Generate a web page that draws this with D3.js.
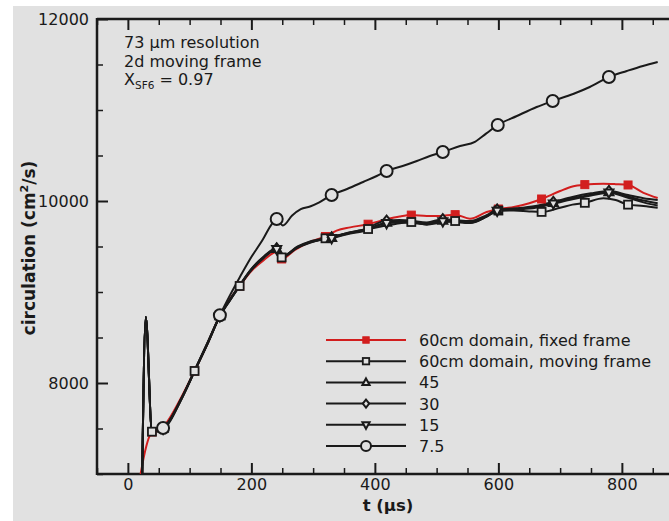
<!DOCTYPE html>
<html><head><meta charset="utf-8">
<script src="https://cdn.jsdelivr.net/npm/d3@7"></script>
<style>html,body{margin:0;padding:0;background:#fff;}svg{display:block;}</style>
</head><body>
<script>
// ---- data ----
const xTicks = [0, 200, 400, 600, 800];
const yTicks = [8000, 10000, 12000];
const xDomain = [-50, 880];
const yDomain = [7000, 12000];

const fixedFrame = [[9,6500],[39,7462],[57,7520],[87,7850],[108,8132],[130,8450],[149,8740],[165,8920],[181,9066],[200,9230],[220,9350],[241,9440],[249,9363],[270,9460],[295,9550],[320,9610],[338,9674],[360,9710],[389,9745],[419,9800],[440,9830],[459,9845],[484,9835],[505,9835],[530,9850],[554,9805],[581,9879],[600,9912],[625,9935],[650,9975],[670,10022],[700,10110],[720,10160],[740,10180],[770,10190],[790,10185],[810,10176],[835,10090],[858,10033]];
const fixedMarks = [39,108,181,249,320,389,459,530,600,670,740,810];

const movingFrame = [[23,6900],[29,8725],[39,7465],[57,7500],[87,7830],[108,8132],[130,8445],[149,8735],[165,8905],[181,9066],[200,9240],[220,9375],[241,9470],[249,9380],[270,9470],[295,9540],[320,9590],[345,9630],[368,9665],[389,9692],[410,9720],[435,9750],[459,9769],[484,9740],[505,9760],[530,9780],[554,9760],[581,9830],[600,9895],[625,9895],[650,9885],[670,9880],[700,9925],[720,9960],[740,9980],[770,10030],[790,10010],[810,9960],[835,9945],[858,9925]];
const movingMarks = [39,108,181,249,320,389,459,530,600,670,740,810];

const d45 = [[23,6900],[29,8725],[39,7470],[57,7500],[87,7830],[108,8130],[130,8450],[149,8736],[165,8910],[181,9070],[200,9250],[220,9385],[241,9475],[252,9396],[275,9495],[295,9549],[330,9595],[355,9640],[381,9675],[419,9765],[440,9775],[457,9770],[484,9750],[510,9785],[530,9775],[554,9765],[581,9835],[598,9900],[630,9915],[660,9935],[689,9980],[720,10030],[750,10070],[779,10100],[810,10050],[835,10005],[858,9975]];
const d30 = [[23,6900],[29,8725],[39,7470],[57,7505],[87,7835],[108,8135],[130,8455],[149,8740],[165,8915],[181,9075],[200,9255],[220,9390],[241,9480],[252,9400],[275,9500],[295,9555],[330,9600],[355,9650],[381,9685],[419,9785],[440,9790],[457,9785],[484,9765],[510,9800],[530,9790],[554,9780],[581,9845],[598,9905],[630,9920],[660,9945],[689,9990],[720,10045],[750,10085],[779,10110],[810,10065],[835,10030],[858,10010]];
const d15 = [[23,6900],[29,8725],[39,7470],[57,7495],[87,7825],[108,8128],[130,8445],[149,8732],[165,8905],[181,9065],[200,9245],[220,9380],[241,9470],[252,9392],[275,9490],[295,9545],[330,9590],[355,9635],[381,9668],[419,9755],[440,9765],[457,9762],[484,9745],[510,9775],[530,9768],[554,9758],[581,9828],[598,9890],[630,9905],[660,9925],[689,9970],[720,10020],[750,10060],[779,10090],[810,10035],[835,9985],[858,9950]];
const bundleMarks = [57,149,241,330,419,510,598,689,779];

const d75 = [[23,6900],[29,8725],[39,7470],[57,7505],[87,7835],[108,8140],[130,8460],[149,8745],[165,8960],[181,9160],[198,9363],[219,9582],[233,9747],[241,9802],[251,9730],[266,9840],[280,9910],[295,9940],[310,9985],[330,10066],[355,10132],[381,10209],[403,10275],[419,10330],[445,10385],[468,10440],[489,10495],[510,10538],[538,10604],[562,10650],[580,10740],[599,10835],[630,10934],[662,11033],[688,11099],[721,11176],[748,11253],[779,11363],[808,11429],[834,11484],[858,11527]];
const marks75 = [57,149,241,330,419,510,599,688,779];

const seriesNames = ["60cm domain, fixed frame","60cm domain, moving frame","45","30","15","7.5"];
const seriesData = [fixedFrame, movingFrame, d45, d30, d15, d75];
const seriesMarks = [fixedMarks, movingMarks, bundleMarks, bundleMarks, bundleMarks, marks75];
const seriesSymbols = ["squareFilled","square","triangle","diamond","triangleDown","circle"];
const seriesColors = ["#d21e1e","#1a1a1a","#1a1a1a","#1a1a1a","#1a1a1a","#1a1a1a"];

(function(){
// ---- layout ----
const W = 669, H = 521;
const BG = "#e1e1e1", INK = "#1a1a1a";
const pLeft = 97, pTop = 19, pBottom = 474;
const x = d3.scaleLinear().domain(xDomain).range([pLeft, pLeft + (xDomain[1]-xDomain[0])*0.6175]);
const y = d3.scaleLinear().domain(yDomain).range([pBottom, pTop]);
const pRight = x.range()[1];

const svg = d3.select("body").append("svg").attr("width", W).attr("height", H);
svg.append("rect").attr("width", W).attr("height", H).attr("fill", "#fff");
svg.append("rect").attr("x", 13).attr("y", 6).attr("width", W-13).attr("height", H-6).attr("fill", BG);

svg.append("defs").append("clipPath").attr("id","plotclip").append("rect")
  .attr("x", pLeft).attr("y", pTop).attr("width", pRight-pLeft).attr("height", pBottom-pTop);

// ---- axes ----
const font = "'DejaVu Sans', sans-serif";
function styleAxis(g){
  g.select(".domain").remove();
  g.selectAll(".tick line").attr("stroke", INK).attr("stroke-width", 2);
  g.selectAll(".tick text").attr("fill", INK).attr("font-family", font).attr("font-size", "16px");
}
const xMinor = d3.range(-50, 881, 50).filter(v => v % 200 !== 0);
const yMinor = d3.range(7000, 12001, 500).filter(v => v % 2000 !== 0);

svg.append("g").attr("transform", `translate(0,${pBottom})`)
  .call(d3.axisTop(x).tickValues(xTicks).tickSize(11).tickFormat(""))
  .call(styleAxis);
svg.append("g").attr("transform", `translate(0,${pBottom})`)
  .call(d3.axisTop(x).tickValues(xMinor).tickSize(6).tickFormat(""))
  .call(styleAxis).selectAll(".tick line").attr("stroke-width", 1.5);
svg.append("g").attr("transform", `translate(0,${pBottom})`)
  .call(d3.axisBottom(x).tickValues(xTicks).tickSize(0).tickPadding(5).tickFormat(d3.format("d")))
  .call(styleAxis);
svg.append("g").attr("transform", `translate(0,${pTop})`)
  .call(d3.axisBottom(x).tickValues(xTicks).tickSize(11).tickFormat(""))
  .call(styleAxis);
svg.append("g").attr("transform", `translate(0,${pTop})`)
  .call(d3.axisBottom(x).tickValues(xMinor).tickSize(6).tickFormat(""))
  .call(styleAxis).selectAll(".tick line").attr("stroke-width", 1.5);
svg.append("g").attr("transform", `translate(${pLeft},0)`)
  .call(d3.axisRight(y).tickValues(yTicks).tickSize(11).tickFormat(""))
  .call(styleAxis);
svg.append("g").attr("transform", `translate(${pLeft},0)`)
  .call(d3.axisRight(y).tickValues(yMinor).tickSize(6).tickFormat(""))
  .call(styleAxis).selectAll(".tick line").attr("stroke-width", 1.5);
svg.append("g").attr("transform", `translate(${pLeft},0)`)
  .call(d3.axisLeft(y).tickValues(yTicks).tickSize(0).tickPadding(8).tickFormat(d3.format("d")))
  .call(styleAxis);

svg.append("line").attr("x1", pLeft).attr("x2", pRight).attr("y1", pBottom).attr("y2", pBottom).attr("stroke", INK).attr("stroke-width", 2.5);
svg.append("line").attr("x1", pLeft).attr("x2", pRight).attr("y1", pTop).attr("y2", pTop).attr("stroke", INK).attr("stroke-width", 2.5);
svg.append("line").attr("x1", pLeft).attr("x2", pLeft).attr("y1", pTop-1).attr("y2", pBottom+1).attr("stroke", INK).attr("stroke-width", 2.5);

// ---- symbols ----
function drawSymbol(g, type, cx, cy, color, s){
  if (type === "squareFilled") {
    g.append("rect").attr("x", cx-s*0.8).attr("y", cy-s*0.8).attr("width", s*1.6).attr("height", s*1.6)
      .attr("fill", color).attr("stroke", color).attr("stroke-width", 1);
  } else if (type === "square") {
    g.append("rect").attr("x", cx-s*0.8).attr("y", cy-s*0.8).attr("width", s*1.6).attr("height", s*1.6)
      .attr("fill", BG).attr("stroke", color).attr("stroke-width", 1.8);
  } else if (type === "circle") {
    g.append("circle").attr("cx", cx).attr("cy", cy).attr("r", s).attr("fill", BG).attr("stroke", color).attr("stroke-width", 2);
  } else {
    let pts;
    if (type === "triangle") pts = [[0,-s],[s*0.9,s*0.65],[-s*0.9,s*0.65]];
    else if (type === "triangleDown") pts = [[0,s],[s*0.9,-s*0.65],[-s*0.9,-s*0.65]];
    else pts = [[0,-s],[s*0.8,0],[0,s],[-s*0.8,0]];
    g.append("polygon").attr("points", pts.map(p => [cx+p[0], cy+p[1]].join(",")).join(" "))
      .attr("fill", BG).attr("stroke", color).attr("stroke-width", 2);
  }
}

// ---- series ----
const plot = svg.append("g").attr("clip-path", "url(#plotclip)");
const line = d3.line().x(d => x(d[0])).y(d => y(d[1])).curve(d3.curveMonotoneX);
const order = [0, 1, 2, 3, 4, 5];
order.forEach(i => {
  plot.append("path").datum(seriesData[i]).attr("d", line)
    .attr("fill", "none").attr("stroke", seriesColors[i]).attr("stroke-width", 2)
    .attr("stroke-linejoin", "round");
});
order.forEach(i => {
  const g = plot.append("g");
  seriesData[i].filter(d => seriesMarks[i].includes(d[0])).forEach(d => {
    drawSymbol(g, seriesSymbols[i], x(d[0]), y(d[1]), seriesColors[i], i === 5 ? 6 : 5);
  });
});

// ---- legend ----
const legY0 = 340, legDy = 21.2;
seriesNames.forEach((name, i) => {
  const ly = legY0 + i*legDy;
  const g = svg.append("g");
  g.append("line").attr("x1", 326).attr("x2", 406).attr("y1", ly).attr("y2", ly)
    .attr("stroke", seriesColors[i]).attr("stroke-width", 2);
  drawSymbol(g, seriesSymbols[i], 366, ly, seriesColors[i], i === 5 ? 5 : 4);
  g.append("text").attr("x", 419).attr("y", ly + 6).attr("font-family", font).attr("font-size", "16px")
    .attr("fill", INK).text(name);
});

// ---- annotation ----
const ann = svg.append("g").attr("font-family", font).attr("font-size", "16px").attr("fill", INK);
ann.append("text").attr("x", 124).attr("y", 48).text("73 μm resolution");
ann.append("text").attr("x", 124).attr("y", 66.5).text("2d moving frame");
const t3 = ann.append("text").attr("x", 124).attr("y", 85);
t3.append("tspan").text("X");
t3.append("tspan").attr("font-size", "10.5px").attr("dy", 4).text("SF6");
t3.append("tspan").attr("dy", -4).text(" = 0.97");

// ---- axis titles ----
svg.append("text").attr("x", 388).attr("y", 511).attr("text-anchor", "middle")
  .attr("font-family", font).attr("font-size", "16.5px").attr("font-weight", "bold").attr("fill", INK)
  .text("t (μs)");
const yt = svg.append("text").attr("transform", "translate(35,248) rotate(-90)").attr("text-anchor", "middle")
  .attr("font-family", font).attr("font-size", "17px").attr("font-weight", "bold").attr("fill", INK);
yt.append("tspan").text("circulation (cm");
yt.append("tspan").attr("font-size", "11px").attr("dy", -7).text("2");
yt.append("tspan").attr("dy", 7).text("/s)");
})();
</script>
</body></html>
